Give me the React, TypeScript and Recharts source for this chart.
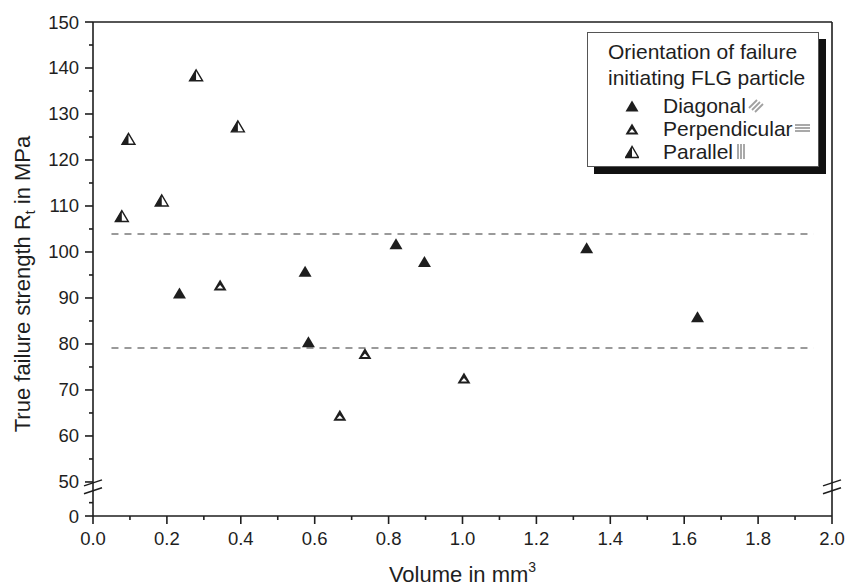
import React from 'react';
import {
    ScatterChart,
    Scatter,
    XAxis,
    YAxis,
    ReferenceLine,
    Legend
} from 'recharts';

// break in the y axis: the "0" tick sits at this (compressed) value
const Y_ZERO = 42.6;

const xTicks = [0, 0.1, 0.2, 0.3, 0.4, 0.5, 0.6, 0.7, 0.8, 0.9, 1.0, 1.1, 1.2, 1.3, 1.4, 1.5, 1.6, 1.7, 1.8, 1.9, 2.0];
const yTicks = [Y_ZERO, 45.5, 50, 55, 60, 65, 70, 75, 80, 85, 90, 95, 100, 105, 110, 115, 120, 125, 130, 135, 140, 145, 150];
const yRightTicks = [Y_ZERO, 45.5, 50, 55, 60, 65, 70, 75, 80, 85, 90, 95, 100, 105, 110, 115, 120, 125, 130, 135, 140, 145, 150];

const diagonal = [
    { x: 0.234, y: 91.0 },
    { x: 0.574, y: 95.7 },
    { x: 0.583, y: 80.4 },
    { x: 0.820, y: 101.7 },
    { x: 0.897, y: 97.8 },
    { x: 1.336, y: 100.8 },
    { x: 1.636, y: 85.8 }
];

const perpendicular = [
    { x: 0.344, y: 92.7 },
    { x: 0.668, y: 64.4 },
    { x: 0.736, y: 77.8 },
    { x: 1.004, y: 72.5 }
];

const parallel = [
    { x: 0.078, y: 107.7 },
    { x: 0.096, y: 124.5 },
    { x: 0.186, y: 111.1 },
    { x: 0.279, y: 138.3 },
    { x: 0.392, y: 127.2 }
];

const bandLimits = [103.9, 79.1];
const bandRange = [0.05, 1.95];
const breakValues = [48.1, 49.8];

const FONT = '"Liberation Sans", Arial, Helvetica, sans-serif';
const INK = '#1e1e1e';

type Kind = 'diagonal' | 'perpendicular' | 'parallel';

const Triangle = ({ cx, cy, kind }: { cx: number; cy: number; kind: Kind }) => {
    const top = `${cx},${cy - 6}`;
    const left = `${cx - 6.5},${cy + 5}`;
    const right = `${cx + 6.5},${cy + 5}`;
    if (kind === 'diagonal') {
        return <polygon points={`${top} ${left} ${right}`} fill={INK} />;
    }
    if (kind === 'perpendicular') {
        return (
            <g>
                <polygon points={`${top} ${left} ${right}`} fill={INK} />
                <polygon points={`${cx},${cy - 0.5} ${cx - 3},${cy + 3} ${cx + 3},${cy + 3}`} fill="#fff" />
            </g>
        );
    }
    return (
        <g>
            <polygon points={`${top} ${left} ${right}`} fill="#fff" stroke={INK} strokeWidth={1.4} />
            <polygon points={`${top} ${left} ${cx},${cy + 5}`} fill={INK} />
        </g>
    );
};

const XTick = (props: any) => {
    const { x, y, payload } = props;
    const v = payload.value;
    const major = Math.round(v * 10) % 2 === 0;
    return (
        <g>
            <line x1={x} x2={x} y1={y} y2={y + (major ? 8 : 4)} stroke={INK} strokeWidth={1.6} />
            {major && (
                <text x={x} y={y + 29} textAnchor="middle" fontSize={18.5} fontFamily={FONT} fill={INK}>
                    {v.toFixed(1)}
                </text>
            )}
        </g>
    );
};

const YTick = (props: any) => {
    const { x, y, payload } = props;
    const v = payload.value;
    let label = '';
    if (v === Y_ZERO) label = '0';
    else if (v >= 50 && v % 10 === 0) label = String(v);
    const major = label !== '';
    return (
        <g>
            <line x1={x - (major ? 8 : 4)} x2={x} y1={y} y2={y} stroke={INK} strokeWidth={1.6} />
            {major && (
                <text x={x - 14} y={y + 6.5} textAnchor="end" fontSize={18.5} fontFamily={FONT} fill={INK}>
                    {label}
                </text>
            )}
        </g>
    );
};

const XLabel = (props: any) => {
    const { viewBox } = props;
    const cx = viewBox.x + viewBox.width / 2;
    return (
        <text x={cx} y={viewBox.y + 66} textAnchor="middle" fontSize={22} fontFamily={FONT} fill={INK}>
            Volume in mm
            <tspan fontSize={14} dy={-10}>3</tspan>
        </text>
    );
};

const YLabel = () => {
    const x = 30;
    const y = 284;
    return (
        <text x={x} y={y} transform={`rotate(-90, ${x}, ${y})`} textAnchor="middle" fontSize={22} fontFamily={FONT} fill={INK}>
            True failure strength R
            <tspan fontSize={14} dy={5}>t</tspan>
            <tspan dy={-5}> in MPa</tspan>
        </text>
    );
};

// draws the "//" break marks over an axis line, using the coordinates handed in by ReferenceLine
const AxisBreak = (props: any) => {
    const { x1, y1, y2 } = props;
    const lo = Math.max(y1, y2);
    const hi = Math.min(y1, y2);
    return (
        <g>
            <rect x={x1 - 3} y={hi + 1} width={6} height={lo - hi - 2} fill="#fff" />
            <line x1={x1 - 9} y1={hi + 3} x2={x1 + 9} y2={hi - 3} stroke={INK} strokeWidth={1.5} />
            <line x1={x1 - 9} y1={lo + 3} x2={x1 + 9} y2={lo - 3} stroke={INK} strokeWidth={1.5} />
        </g>
    );
};

const Hatch = ({ dir }: { dir: 'diag' | 'horiz' | 'vert' }) => {
    const c = '#a0a0a0';
    let lines: number[][] = [];
    if (dir === 'diag') lines = [[1, 11, 9, 3], [4, 13, 12, 5], [7, 15, 15, 7]];
    if (dir === 'horiz') lines = [[0, 5, 15, 5], [0, 8, 15, 8], [0, 11, 15, 11]];
    if (dir === 'vert') lines = [[3, 1, 3, 16], [6, 1, 6, 16], [9, 1, 9, 16]];
    return (
        <svg width={16} height={17} style={{ marginLeft: 2 }}>
            {lines.map((l, i) => (
                <line key={i} x1={l[0]} y1={l[1]} x2={l[2]} y2={l[3]} stroke={c} strokeWidth={1.8} />
            ))}
        </svg>
    );
};

const legendRows: { name: string; kind: Kind; hatch: 'diag' | 'horiz' | 'vert' }[] = [
    { name: 'Diagonal', kind: 'diagonal', hatch: 'diag' },
    { name: 'Perpendicular', kind: 'perpendicular', hatch: 'horiz' },
    { name: 'Parallel', kind: 'parallel', hatch: 'vert' }
];

const LegendBox = () => (
    <div
        style={{
            width: 232,
            height: 135,
            boxSizing: 'border-box',
            border: '1px solid #555',
            background: '#fff',
            boxShadow: '7px 7px 0 #111',
            fontFamily: FONT,
            fontSize: 21,
            color: INK,
            paddingLeft: 20,
            paddingTop: 6,
            textAlign: 'left'
        }}
    >
        <div style={{ lineHeight: '26px', whiteSpace: 'nowrap' }}>Orientation of failure</div>
        <div style={{ lineHeight: '26px', whiteSpace: 'nowrap' }}>initiating FLG particle</div>
        <div style={{ marginTop: 3 }}>
            {legendRows.map(r => (
                <div key={r.name} style={{ display: 'flex', alignItems: 'center', height: 23, whiteSpace: 'nowrap' }}>
                    <svg width={14} height={14} style={{ marginLeft: 17, marginRight: 24 }}>
                        <Triangle cx={7} cy={7.5} kind={r.kind} />
                    </svg>
                    <span style={{ lineHeight: '23px' }}>{r.name}</span>
                    <Hatch dir={r.hatch} />
                </div>
            ))}
        </div>
    </div>
);

export default function App() {
    return (
        <div style={{ position: 'absolute', left: 0, top: 0, background: '#fff' }}>
            <ScatterChart width={845} height={586} margin={{ top: 21, right: 12, bottom: 0, left: 0 }}>
                <XAxis
                    xAxisId="main"
                    type="number"
                    dataKey="x"
                    domain={[0, 2]}
                    ticks={xTicks}
                    interval={0}
                    height={70}
                    tickSize={0}
                    tickMargin={0}
                    tickLine={false}
                    tick={<XTick />}
                    axisLine={{ stroke: INK, strokeWidth: 1.6 }}
                    label={<XLabel />}
                />
                <XAxis
                    xAxisId="top"
                    orientation="top"
                    type="number"
                    dataKey="x"
                    domain={[0, 2]}
                    ticks={xTicks}
                    interval={0}
                    height={1}
                    tickSize={3}
                    tick={false}
                    tickLine={{ stroke: INK, strokeWidth: 1.2 }}
                    axisLine={{ stroke: INK, strokeWidth: 1.6 }}
                />
                <YAxis
                    yAxisId="main"
                    type="number"
                    dataKey="y"
                    domain={[Y_ZERO, 150]}
                    ticks={yTicks}
                    interval={0}
                    width={93}
                    tickSize={0}
                    tickMargin={0}
                    tickLine={false}
                    tick={<YTick />}
                    axisLine={{ stroke: INK, strokeWidth: 1.6 }}
                    label={<YLabel />}
                />
                <YAxis
                    yAxisId="right"
                    orientation="right"
                    type="number"
                    dataKey="y"
                    domain={[Y_ZERO, 150]}
                    ticks={yRightTicks}
                    interval={0}
                    width={1}
                    tickSize={3}
                    tick={false}
                    tickLine={{ stroke: INK, strokeWidth: 1.2 }}
                    axisLine={{ stroke: INK, strokeWidth: 1.6 }}
                />
                {bandLimits.map(v => (
                    <ReferenceLine
                        key={v}
                        xAxisId="main"
                        yAxisId="main"
                        segment={[{ x: bandRange[0], y: v }, { x: bandRange[1], y: v }]}
                        stroke="#9a9a9a"
                        strokeWidth={2}
                        strokeDasharray="7 6"
                        ifOverflow="visible"
                    />
                ))}
                {[0, 2].map(xv => (
                    <ReferenceLine
                        key={`break-${xv}`}
                        xAxisId="main"
                        yAxisId="main"
                        segment={[{ x: xv, y: breakValues[0] }, { x: xv, y: breakValues[1] }]}
                        ifOverflow="visible"
                        shape={AxisBreak}
                    />
                ))}
                {/* invisible series that ties the mirrored top/right axes to data */}
                <Scatter
                    xAxisId="top"
                    yAxisId="right"
                    data={diagonal}
                    legendType="none"
                    isAnimationActive={false}
                    shape={() => <g />}
                />
                <Scatter
                    name="Diagonal"
                    xAxisId="main"
                    yAxisId="main"
                    data={diagonal}
                    isAnimationActive={false}
                    shape={(p: any) => <Triangle cx={p.cx} cy={p.cy} kind="diagonal" />}
                />
                <Scatter
                    name="Perpendicular"
                    xAxisId="main"
                    yAxisId="main"
                    data={perpendicular}
                    isAnimationActive={false}
                    shape={(p: any) => <Triangle cx={p.cx} cy={p.cy} kind="perpendicular" />}
                />
                <Scatter
                    name="Parallel"
                    xAxisId="main"
                    yAxisId="main"
                    data={parallel}
                    isAnimationActive={false}
                    shape={(p: any) => <Triangle cx={p.cx} cy={p.cy} kind="parallel" />}
                />
                <Legend
                    layout="horizontal"
                    align="center"
                    verticalAlign="middle"
                    content={<LegendBox />}
                    wrapperStyle={{ left: 587, top: 32, width: 232, height: 135 }}
                />
            </ScatterChart>
        </div>
    );
}
